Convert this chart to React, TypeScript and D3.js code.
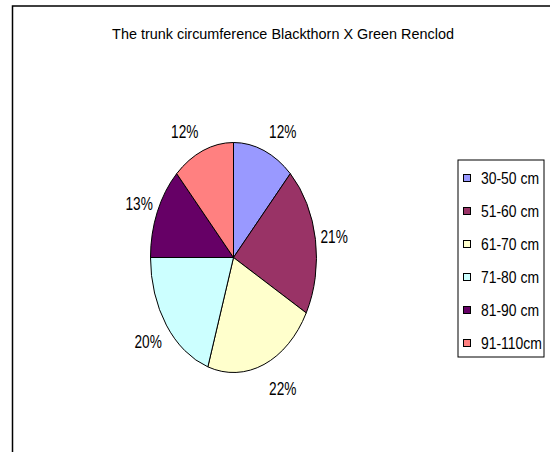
import * as d3 from "d3";

const categories = ["30-50 cm", "51-60 cm", "61-70 cm", "71-80 cm", "81-90 cm", "91-110cm"];
const shares = [12, 21, 22, 20, 13, 12];
const colors = ["#9999FF", "#993366", "#FFFFCC", "#CCFFFF", "#660066", "#FF8080"];

const title = "The trunk circumference Blackthorn X Green Renclod";

export default function App() {
  const width = 550;
  const height = 452;

  const cx = 233.5;
  const cy = 257.5;
  const rx = 83;
  const ry = 115;

  const total = d3.sum(shares);
  const pie = d3.pie<number>().sort(null).value(d => d);
  const arcs = pie(shares);
  const arc = d3.arc<d3.PieArcDatum<number>>().innerRadius(0).outerRadius(ry);
  const pct = d3.format(".0%");

  const legendY = d3.scaleBand<string>()
    .domain(categories)
    .range([160, 358]);

  const font = "'Liberation Sans', Arial, sans-serif";

  return (
    <svg
      width={width}
      height={height}
      style={{ position: "absolute", left: 0, top: 0, background: "#fff" }}
      fontFamily={font}
    >
      {/* frame */}
      <path d="M12.5,460 V6 H560" fill="none" stroke="#000" strokeWidth={1.5} />

      {/* title */}
      <text
        transform={`translate(283,39) scale(0.93,1)`}
        textAnchor="middle"
        fontSize={15.5}
        fill="#000"
      >
        {title}
      </text>

      {/* slices */}
      <g transform={`translate(${cx},${cy}) scale(${rx / ry},1)`}>
        {arcs.map((a, i) => (
          <path
            key={i}
            d={arc(a) ?? ""}
            fill={colors[i]}
            stroke="#000"
            strokeWidth={1}
            vectorEffect="non-scaling-stroke"
          />
        ))}
      </g>

      {/* percent labels */}
      {arcs.map((a, i) => {
        const mid = (a.startAngle + a.endAngle) / 2;
        const s = Math.sin(mid);
        const c = Math.cos(mid);
        const ex = cx + rx * s;
        const ey = cy - ry * c;
        const right = s >= 0;
        const x = ex + (right ? 5 : -4.5);
        const y = ey - c * 20 + (c < 0 ? 5 : 0);
        return (
          <text
            key={i}
            transform={`translate(${x},${y + 6.5}) scale(0.76,1)`}
            textAnchor={right ? "start" : "end"}
            fontSize={18}
            fill="#000"
          >
            {pct(a.data / total)}
          </text>
        );
      })}

      {/* legend */}
      <rect x={458} y={160} width={86} height={197} fill="#fff" stroke="#000" strokeWidth={1} />
      {categories.map((cat, i) => {
        const yc = (legendY(cat) ?? 0) + legendY.bandwidth() / 2 + 1;
        return (
          <g key={cat}>
            <rect
              x={463.5}
              y={yc - 3}
              width={7}
              height={7}
              fill={colors[i]}
              stroke="#000"
              strokeWidth={1}
            />
            <text
              transform={`translate(481,${yc + 6}) scale(0.87,1)`}
              fontSize={16}
              fill="#000"
            >
              {cat}
            </text>
          </g>
        );
      })}
    </svg>
  );
}
